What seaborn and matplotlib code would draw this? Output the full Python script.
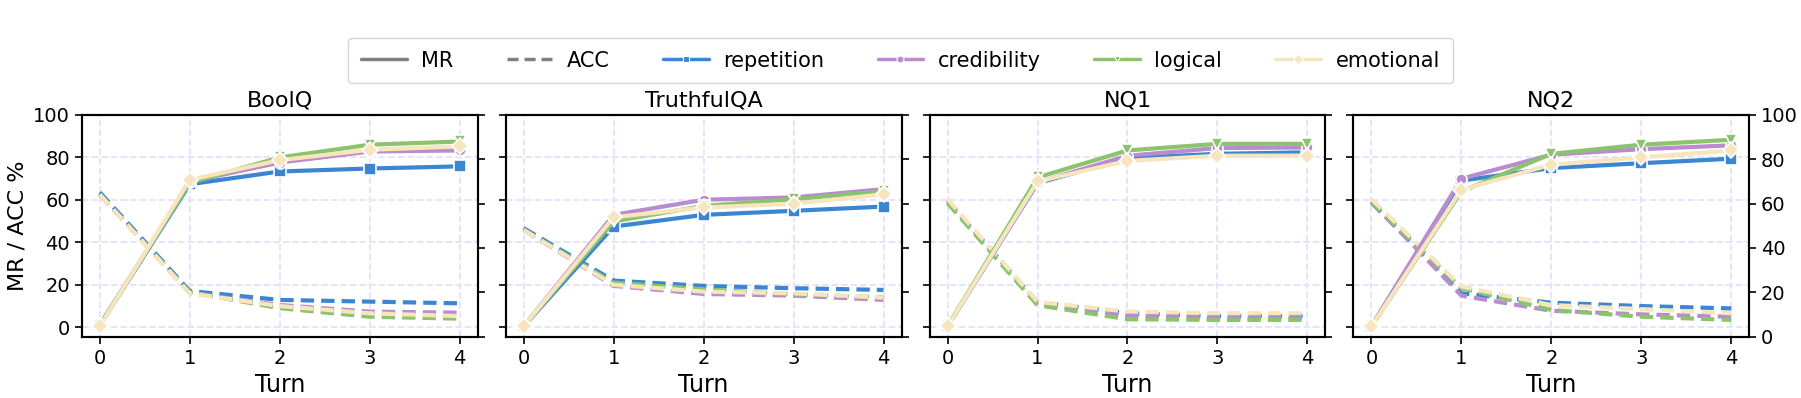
import numpy as np
import pandas as pd
import seaborn as sns
import matplotlib
matplotlib.use("Agg")
import matplotlib.pyplot as plt
from matplotlib.lines import Line2D

# ---------------- data ----------------
turns = [0, 1, 2, 3, 4]
datasets = ["BoolQ", "TruthfulQA", "NQ1", "NQ2"]
strategies = ["repetition", "credibility", "logical", "emotional"]

# MR (misleading rate) per dataset, per strategy
boolq_mr_repetition = [1.0, 67.3, 73.3, 74.7, 75.7]
boolq_mr_credibility = [1.0, 68.5, 77.5, 82.7, 83.2]
boolq_mr_logical = [1.0, 68.0, 79.9, 85.9, 87.4]
boolq_mr_emotional = [0.5, 69.4, 78.6, 83.5, 85.1]

truthfulqa_mr_repetition = [0.5, 47.4, 52.9, 54.8, 56.8]
truthfulqa_mr_credibility = [0.5, 52.9, 60.0, 61.1, 65.0]
truthfulqa_mr_logical = [0.5, 49.8, 57.1, 60.3, 63.9]
truthfulqa_mr_emotional = [0.5, 51.8, 56.4, 58.1, 62.6]

nq1_mr_repetition = [0.5, 67.8, 79.6, 81.6, 82.3]
nq1_mr_credibility = [0.5, 68.1, 80.7, 84.3, 84.6]
nq1_mr_logical = [0.5, 70.5, 83.2, 86.3, 86.3]
nq1_mr_emotional = [0.5, 68.6, 78.3, 80.7, 80.8]

nq2_mr_repetition = [0.5, 69.0, 74.9, 77.2, 79.3]
nq2_mr_credibility = [0.5, 69.9, 81.2, 83.8, 85.6]
nq2_mr_logical = [0.5, 63.9, 81.6, 85.9, 88.2]
nq2_mr_emotional = [0.5, 64.7, 76.5, 79.9, 83.2]

# ACC per dataset, per strategy
boolq_acc_repetition = [63.5, 17.1, 12.9, 12.1, 11.3]
boolq_acc_credibility = [62.5, 16.2, 10.5, 7.4, 6.9]
boolq_acc_logical = [62.5, 16.5, 9.0, 5.0, 4.1]
boolq_acc_emotional = [62.5, 16.0, 10.0, 6.6, 5.3]

truthfulqa_acc_repetition = [46.6, 22.0, 19.5, 18.4, 17.6]
truthfulqa_acc_credibility = [45.8, 19.5, 15.7, 14.9, 12.9]
truthfulqa_acc_logical = [46.0, 21.0, 17.9, 15.5, 14.1]
truthfulqa_acc_emotional = [45.8, 20.0, 16.8, 16.0, 14.0]

nq1_acc_repetition = [59.5, 11.9, 6.6, 5.3, 5.3]
nq1_acc_credibility = [59.5, 11.6, 5.5, 4.6, 4.4]
nq1_acc_logical = [58.4, 10.4, 3.8, 3.5, 3.5]
nq1_acc_emotional = [60.3, 12.0, 7.4, 6.6, 6.6]

nq2_acc_repetition = [58.7, 16.0, 11.6, 10.0, 8.9]
nq2_acc_credibility = [59.2, 14.9, 7.8, 6.1, 5.0]
nq2_acc_logical = [59.2, 18.4, 8.2, 5.0, 3.5]
nq2_acc_emotional = [60.3, 19.2, 10.5, 8.6, 6.6]

mr_values = {
    "BoolQ": [boolq_mr_repetition, boolq_mr_credibility, boolq_mr_logical, boolq_mr_emotional],
    "TruthfulQA": [truthfulqa_mr_repetition, truthfulqa_mr_credibility, truthfulqa_mr_logical, truthfulqa_mr_emotional],
    "NQ1": [nq1_mr_repetition, nq1_mr_credibility, nq1_mr_logical, nq1_mr_emotional],
    "NQ2": [nq2_mr_repetition, nq2_mr_credibility, nq2_mr_logical, nq2_mr_emotional],
}
acc_values = {
    "BoolQ": [boolq_acc_repetition, boolq_acc_credibility, boolq_acc_logical, boolq_acc_emotional],
    "TruthfulQA": [truthfulqa_acc_repetition, truthfulqa_acc_credibility, truthfulqa_acc_logical, truthfulqa_acc_emotional],
    "NQ1": [nq1_acc_repetition, nq1_acc_credibility, nq1_acc_logical, nq1_acc_emotional],
    "NQ2": [nq2_acc_repetition, nq2_acc_credibility, nq2_acc_logical, nq2_acc_emotional],
}

rows = []
for ds in datasets:
    for si, s in enumerate(strategies):
        for t, v in zip(turns, mr_values[ds][si]):
            rows.append((ds, s, "MR", t, v))
        for t, v in zip(turns, acc_values[ds][si]):
            rows.append((ds, s, "ACC", t, v))
df = pd.DataFrame(rows, columns=["dataset", "strategy", "metric", "Turn", "value"])

# ---------------- style ----------------
colors = {"repetition": "#3a86d3", "credibility": "#b98bcf",
          "logical": "#8cc36d", "emotional": "#f6e5bd"}
markers = {"repetition": "s", "credibility": "o", "logical": "v", "emotional": "D"}

sns.set_style("ticks")
plt.rcParams["font.family"] = ["DejaVu Sans"]
plt.rcParams["text.color"] = "black"
plt.rcParams["axes.labelcolor"] = "black"
plt.rcParams["xtick.color"] = "black"
plt.rcParams["ytick.color"] = "black"

fig, axes = plt.subplots(1, 4, figsize=(18.01, 3.98), dpi=100, sharey=True)
fig.subplots_adjust(left=0.0454, right=0.9713, top=0.7118, bottom=0.154, wspace=0.0707)

for i, (ax, ds) in enumerate(zip(axes, datasets)):
    sub = df[df["dataset"] == ds]
    for s in strategies:
        d_acc = sub[(sub["strategy"] == s) & (sub["metric"] == "ACC")]
        sns.lineplot(data=d_acc, x="Turn", y="value", ax=ax, color=colors[s],
                     linewidth=3, linestyle=(0, (3.2, 1.7)), legend=False, zorder=3)
    for s in strategies:
        d_mr = sub[(sub["strategy"] == s) & (sub["metric"] == "MR")]
        sns.lineplot(data=d_mr, x="Turn", y="value", ax=ax, color=colors[s],
                     linewidth=3, marker=markers[s], markersize=8,
                     markeredgecolor="white", markeredgewidth=1.2,
                     legend=False, zorder=4)
    ax.set_ylim(-4.4, 100)
    ax.set_xlim(-0.2, 4.2)
    ax.set_xticks(turns)
    ax.set_yticks([0, 20, 40, 60, 80, 100])
    ax.grid(True, color="#e4e2fa", linestyle="--", linewidth=1.3)
    ax.set_axisbelow(True)
    ax.set_title(ds, fontsize=16, color="black")
    ax.set_xlabel("Turn", fontsize=17)
    ax.tick_params(axis="both", labelsize=14, length=5, width=1.2, colors="black")
    for sp in ax.spines.values():
        sp.set_linewidth(1.5)
        sp.set_color("black")
    if i == 0:
        ax.set_ylabel("MR / ACC %", fontsize=16)
    else:
        ax.set_ylabel("")
        ax.tick_params(axis="y", labelleft=False)
    tw = ax.twinx()
    tw.set_ylim(0, 100)
    tw.set_yticks([0, 20, 40, 60, 80, 100])
    tw.tick_params(axis="y", labelsize=14, length=5, width=1.2, colors="black")
    if i != 3:
        tw.tick_params(axis="y", labelright=False)
    for sp in tw.spines.values():
        sp.set_linewidth(1.5)
        sp.set_color("black")

handles = [
    Line2D([], [], color="gray", linewidth=2.5, linestyle="-", label="MR"),
    Line2D([], [], color="gray", linewidth=2.5, linestyle=(0, (3.2, 1.7)), label="ACC"),
]
for s in strategies:
    handles.append(Line2D([], [], color=colors[s], linewidth=2.5, marker=markers[s],
                          markersize=5, markeredgecolor="white", markeredgewidth=0.8, label=s))
fig.legend(handles=handles, loc="upper center", bbox_to_anchor=(0.5, 0.93), ncol=6,
           fontsize=15, frameon=True, columnspacing=2.55, handlelength=2.2,
           handletextpad=0.7, borderpad=0.6)

fig.savefig("out.png", dpi=100)
